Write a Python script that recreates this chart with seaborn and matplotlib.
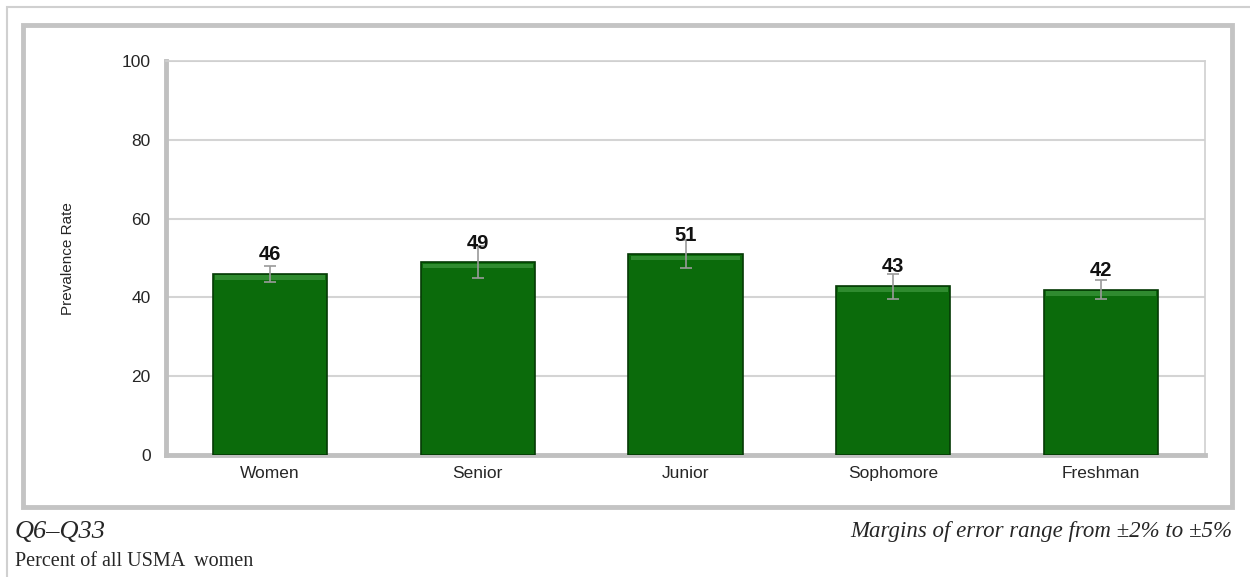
import matplotlib
matplotlib.use("Agg")
import matplotlib.pyplot as plt
import seaborn as sns
import pandas as pd
from matplotlib.patches import Rectangle

# values
groups = ["Women", "Senior", "Junior", "Sophomore", "Freshman"]
rates = [46, 49, 51, 43, 42]
err_low = [2.0, 4.0, 3.5, 3.5, 2.5]
err_high = [2.0, 4.0, 3.5, 3.0, 2.5]
yticks = [0, 20, 40, 60, 80, 100]

df = pd.DataFrame({"group": groups, "rate": rates})

sns.set_style("white")
plt.rcParams["font.family"] = ["Liberation Sans", "DejaVu Sans"]

fig = plt.figure(figsize=(12.5, 5.77), dpi=100)
ax = fig.add_axes([0.1328, 0.2114, 0.8312, 0.6826])

sns.barplot(data=df, x="group", y="rate", color="#0b6b0b", width=0.55,
            edgecolor="#053a05", linewidth=1.2, saturation=1, ax=ax,
            errorbar=None, zorder=3)

# bevel highlight, error bars and value labels, placed on seaborn's bars
for bar, v, lo, hi in list(zip(ax.patches, rates, err_low, err_high)):
    x0, w = bar.get_x(), bar.get_width()
    cx = x0 + w / 2
    ax.add_patch(Rectangle((x0 + w * 0.02, v - 1.6), w * 0.96, 1.2,
                           facecolor="#3f9a3f", edgecolor="none", alpha=0.7,
                           zorder=3.5))
    ax.errorbar(cx, v, yerr=[[lo], [hi]], fmt="none", ecolor="#9a9a9a",
                elinewidth=1.2, capsize=4, capthick=1.2, zorder=4)
    ax.text(cx, v + 2.4, str(v), ha="center", va="bottom", fontsize=14.5,
            fontweight="bold", color="#111111", zorder=5)

ax.set_ylim(0, 100)
ax.set_yticks(yticks)
ax.set_xlim(-0.5, len(groups) - 0.5)
ax.yaxis.grid(True, color="#d4d4d4", linewidth=1.5, zorder=0)
ax.set_axisbelow(True)
ax.set_xlabel("")
ax.set_ylabel("Prevalence Rate", fontsize=11, labelpad=34)
ax.tick_params(axis="both", labelsize=12.5, length=0)
ax.tick_params(axis="y", pad=11)
ax.tick_params(axis="x", pad=8)
for s in ["top", "right"]:
    ax.spines[s].set_color("#d0d0d0")
    ax.spines[s].set_linewidth(1.2)
for s in ["left", "bottom"]:
    ax.spines[s].set_color("#c0c0c0")
    ax.spines[s].set_linewidth(3.5)

# frames around the chart
fig.patches.append(Rectangle((7 / 1250, -0.05), 1.1, 1 - 7 / 577 + 0.05,
                             transform=fig.transFigure, fill=False,
                             edgecolor="#d0d0d0", linewidth=1.5))
fig.patches.append(Rectangle((23 / 1250, 1 - 507 / 577), (1232 - 23) / 1250,
                             (507 - 25) / 577, transform=fig.transFigure,
                             fill=False, edgecolor="#c4c4c4", linewidth=3.5))

fig.text(15 / 1250, 1 - 532 / 577, "Q6\u2013Q33", fontsize=19, style="italic",
         family="Liberation Serif", va="center", ha="left")
fig.text(15 / 1250, 1 - 561 / 577, "Percent of all USMA  women", fontsize=14.5,
         family="Liberation Serif", va="center", ha="left")
fig.text(1232 / 1250, 1 - 532 / 577,
         "Margins of error range from \u00b12% to \u00b15%", fontsize=16.5,
         style="italic", family="Liberation Serif", va="center", ha="right")

fig.savefig("out.png", dpi=100)
